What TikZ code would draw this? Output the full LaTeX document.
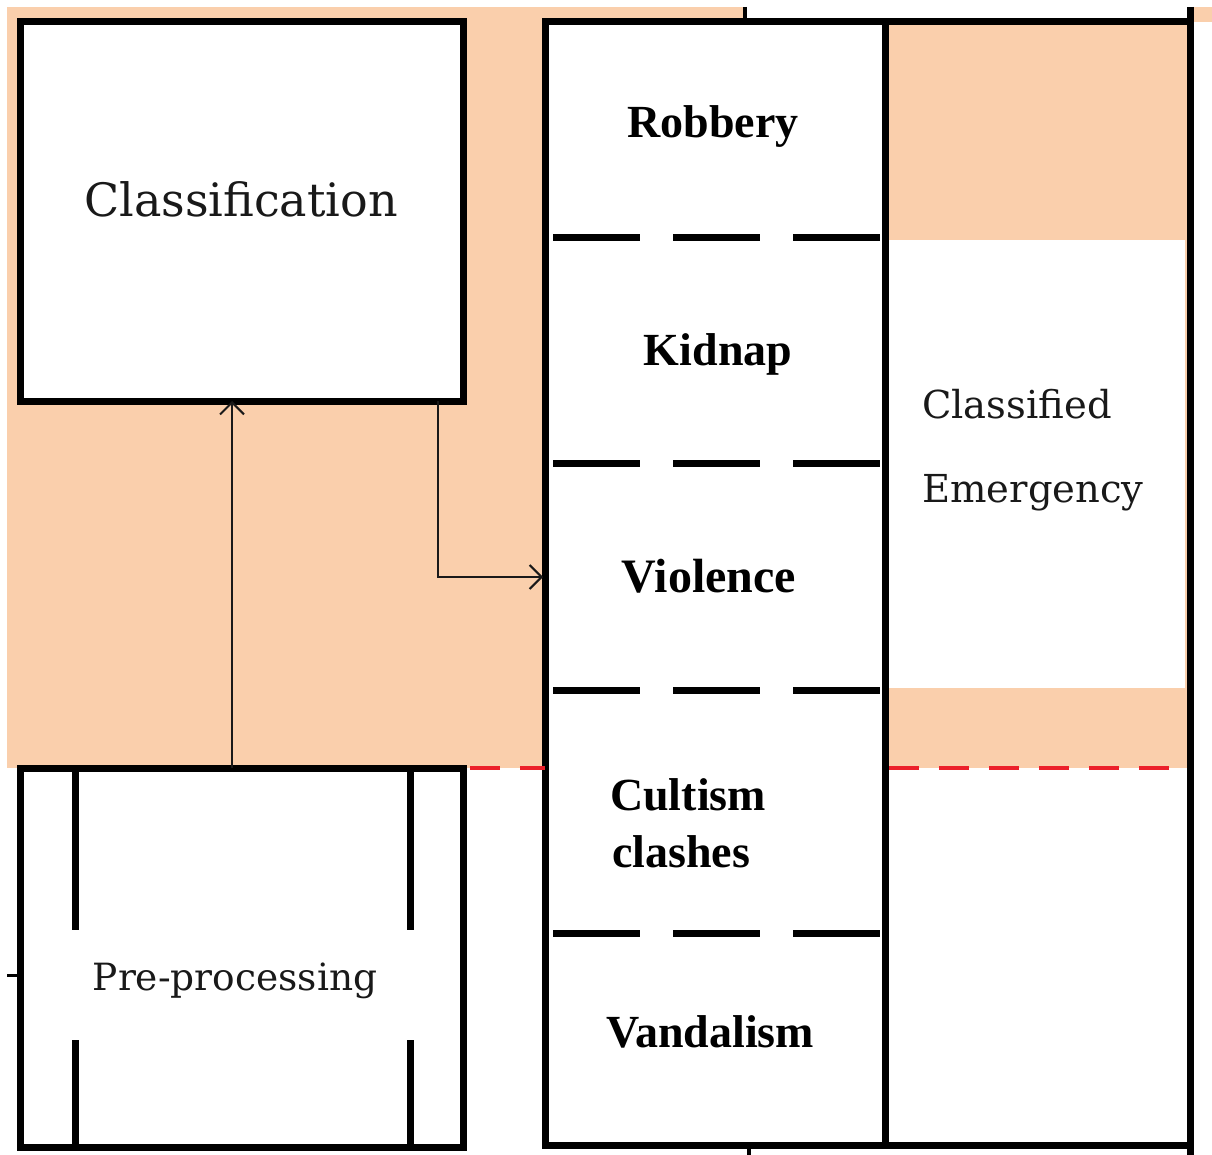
\documentclass[tikz,border=0pt]{standalone}
\usepackage{fontspec}
\setmainfont{Liberation Serif}
\newfontfamily\slabfont{DejaVu Serif}
\usetikzlibrary{arrows.meta}

\definecolor{peach}{RGB}{250,207,172}
\definecolor{cutred}{RGB}{236,32,42}

\tikzset{
  wall/.style={draw=black, line width=7pt, rectangle, inner sep=0pt, outer sep=0pt},
  sepline/.style={draw=black, line width=7pt, dash pattern=on 87pt off 33pt},
  cutline/.style={draw=cutred, line width=4.5pt, dash pattern=on 30pt off 20pt},
  flow/.style={draw=black!90, line width=2pt, -{Straight Barb[length=12pt,width=24pt,line width=2pt]}},
  plain/.style={anchor=base, inner sep=0pt, text=black!90, font=\slabfont\fontsize{46}{50}\selectfont},
  small/.style={anchor=base west, inner sep=0pt, text=black!90, font=\slabfont\fontsize{38.5}{42}\selectfont},
  crime/.style={anchor=base, inner sep=0pt, font=\bfseries\fontsize{46}{50}\selectfont},
}

\begin{document}
\begin{tikzpicture}[x=1pt, y=-1pt]
  \useasboundingbox (0,0) rectangle (1212,1155);

  % shaded band behind the upper half
  \fill[peach] (7,7) rectangle (745,768);
  \fill[peach] (745,22) rectangle (1187,768);
  \fill[peach] (1193,7) rectangle (1212,22);

  % main boxes
  \node[wall, fill=white, minimum width=443pt, minimum height=379pt] (cls) at (241.5,211.5) {};
  \node[wall, fill=white, minimum width=443pt, minimum height=379pt] (pre) at (241.5,957.5) {};
  \node[wall, fill=white, minimum width=340pt, minimum height=1123pt] (col) at (715,583.5) {};
  \node[fill=white, inner sep=0pt, minimum width=300pt, minimum height=448pt] (emg) at (1035,464) {};
  \node[wall, minimum width=305pt, minimum height=1123pt] (out) at (1037.5,583.5) {};

  % outer rule on the right and small ticks
  \coordinate (rtop) at (1190,7);
  \coordinate (rbot) at (1190,1155);
  \draw[line width=7pt] (rtop) -- (rbot);
  \coordinate (ttop) at (745,7);
  \draw[line width=4pt] (ttop) -- (col.north -| ttop);
  \coordinate (tbot) at (749,1155);
  \draw[line width=4pt] (col.south -| tbot) -- (tbot);

  % red cut line
  \coordinate (cutA) at (470,768);
  \coordinate (cutB) at (889,768);
  \coordinate (cutC) at (1187,768);
  \draw[cutline] (cutA) -- (col.west |- cutA);
  \draw[cutline] (cutB) -- (cutC);

  % dashed separators inside the category column
  \foreach \yy/\nm in {238/sa, 463/sb, 690/sc, 933/sd} {
    \coordinate (\nm) at (553,\yy);
    \draw[sepline] (\nm) -- (out.west |- \nm);
  }

  % inner rails of the pre-processing box
  \foreach \xx/\nm in {75/ra, 410/rb} {
    \coordinate (\nm1) at (\xx,768);
    \coordinate (\nm2) at (\xx,930);
    \coordinate (\nm3) at (\xx,1040);
    \coordinate (\nm4) at (\xx,1147);
    \draw[line width=7pt] (\nm1) -- (\nm2);
    \draw[line width=7pt] (\nm3) -- (\nm4);
  }

  % incoming stub on the left
  \coordinate (inl) at (7,975);
  \draw[line width=3pt] (inl) -- (pre.west |- inl);

  % flow arrows
  \coordinate (upx) at (232,0);
  \draw[flow] (pre.north -| upx) -- (cls.south -| upx);
  \coordinate (dnx) at (438,0);
  \coordinate (hit) at (542,577);
  \draw[flow, shorten >=-1pt] (cls.south -| dnx) |- (hit);

  % labels
  \node[plain] (tcls) at (241,217) {Classification};
  \node[plain, font=\slabfont\fontsize{37.5}{42}\selectfont] (tpre) at (235,990) {Pre-processing};
  \node[small] (tcl1) at (922,418) {Classified};
  \node[small] (tcl2) at (922,502) {Emergency};

  \node[crime] (trob) at (713,138) {Robbery};
  \node[crime] (tkid) at (718,365) {Kidnap};
  \node[crime, font=\bfseries\fontsize{48}{52}\selectfont] (tvio) at (709,592) {Violence};
  \node[crime, anchor=base west] (tcu1) at (610,810) {Cultism};
  \node[crime, anchor=base west] (tcu2) at (612,867) {clashes};
  \node[crime] (tvan) at (710,1047) {Vandalism};
\end{tikzpicture}
\end{document}
